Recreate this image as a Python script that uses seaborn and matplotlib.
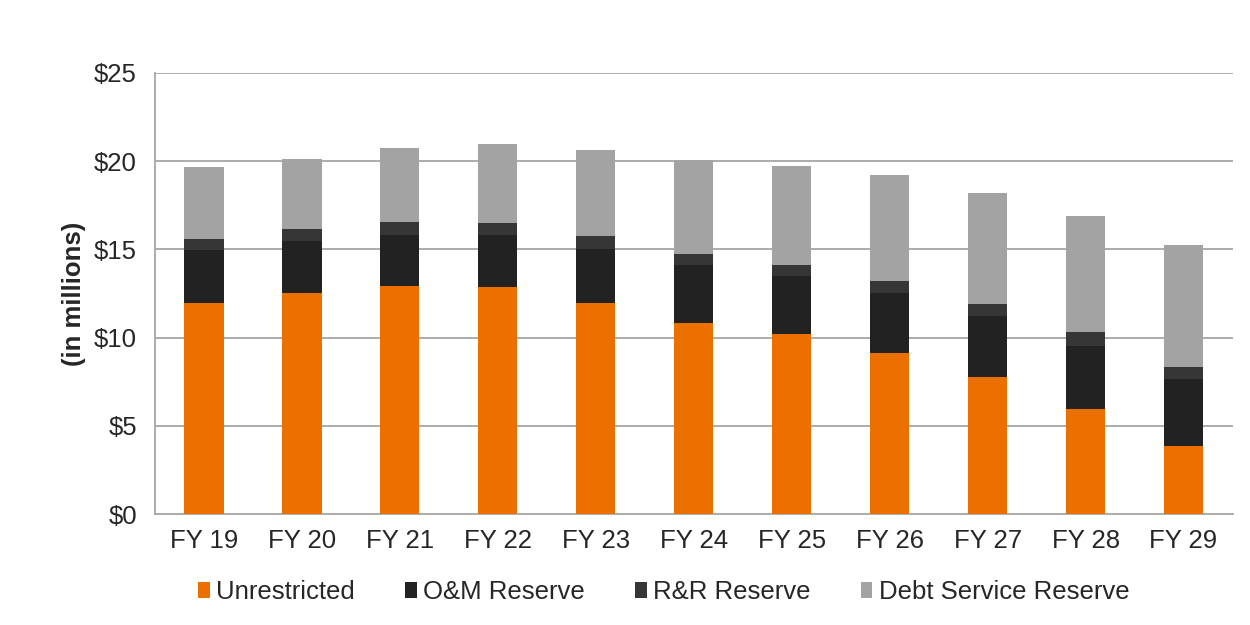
"""
plot.py
Stacked reserve balances by fiscal year (FY 19 - FY 29).
"""

import numpy as np
import pandas as pd
import matplotlib.pyplot as plt
import seaborn as sns

years = ["FY 19", "FY 20", "FY 21", "FY 22", "FY 23", "FY 24",
         "FY 25", "FY 26", "FY 27", "FY 28", "FY 29"]
unrestricted = [11.95, 12.55, 12.95, 12.85, 11.95, 10.85, 10.2, 9.1, 7.75, 5.95, 3.85]
om_reserve = [3.0, 2.9, 2.87, 2.97, 3.05, 3.25, 3.27, 3.45, 3.45, 3.6, 3.8]
rr_reserve = [0.65, 0.7, 0.75, 0.66, 0.75, 0.65, 0.63, 0.65, 0.73, 0.75, 0.67]
debt_service = [4.05, 4.0, 4.15, 4.5, 4.9, 5.3, 5.65, 6.0, 6.25, 6.6, 6.95]

series = ["Unrestricted", "O&M Reserve", "R&R Reserve", "Debt Service Reserve"]
colors = ["#EC7000", "#222222", "#363636", "#A3A3A3"]
y_ticks = [0, 5, 10, 15, 20, 25]

sns.set_style("white")
plt.rcParams["font.family"] = ["Liberation Sans", "DejaVu Sans"]

df = pd.DataFrame({
    "year": years,
    series[0]: unrestricted,
    series[1]: om_reserve,
    series[2]: rr_reserve,
    series[3]: debt_service,
})

fig = plt.figure(figsize=(12.5, 6.25), dpi=100)
ax = fig.add_axes([0.124, 0.1776, 0.862, 0.7056])

bottom = np.zeros(len(years))
for name, col in zip(series, colors):
    sns.barplot(data=df, x="year", y=name, bottom=bottom, color=col,
                saturation=1, width=0.4, label=name, ax=ax, zorder=3,
                edgecolor=col, linewidth=0)
    bottom = bottom + df[name].to_numpy()

grid_col = "#A6A6A6"
text_col = "#262626"
fs = 18.5

ax.set_xlim(-0.5, len(years) - 0.5)
ax.set_ylim(0, 25)
ax.set_yticks(y_ticks)
ax.set_yticklabels([f"${v}" for v in y_ticks])
for v in y_ticks[1:]:
    ax.axhline(v, color=grid_col, lw=1.3, zorder=1)

# category-boundary ticks on the x axis
ax.set_xticks(np.arange(-0.5, len(years)), minor=True)
ax.tick_params(axis="x", which="major", length=0, pad=11,
               labelsize=fs, labelcolor=text_col)
ax.tick_params(axis="x", which="minor", length=7, width=1.3,
               color=grid_col, direction="out")
ax.tick_params(axis="y", length=8, width=1.3, color=grid_col,
               direction="out", pad=5, labelsize=fs, labelcolor=text_col)

for side in ["top", "right"]:
    ax.spines[side].set_visible(False)
for side in ["left", "bottom"]:
    ax.spines[side].set_color(grid_col)
    ax.spines[side].set_linewidth(1.3)

ax.set_xlabel("")
ax.set_ylabel("(in millions)", fontsize=fs, fontweight="bold",
              color=text_col, labelpad=6)

handles, labels = ax.get_legend_handles_labels()
if ax.legend_:
    ax.legend_.remove()
fig.legend(handles, labels, loc="center", bbox_to_anchor=(0.531, 0.053),
           ncol=4, frameon=False, fontsize=fs, labelcolor=text_col,
           handlelength=0.45, handleheight=0.6, handletextpad=0.25,
           columnspacing=1.95)

plt.savefig("out.png", dpi=100)
